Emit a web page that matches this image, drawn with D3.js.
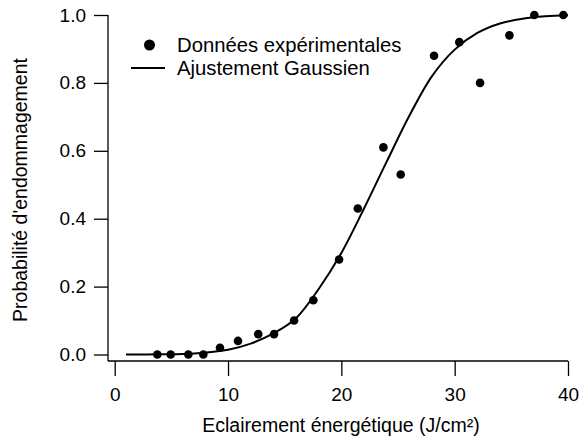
<!DOCTYPE html>
<html>
<head>
<meta charset="utf-8">
<title>Probabilité d'endommagement</title>
<script src="https://cdnjs.cloudflare.com/ajax/libs/d3/7.8.5/d3.min.js"></script>
<style>
body { margin: 0; background: #fff; }
svg { font-family: "Liberation Sans", Arial, sans-serif; }
.axis text { font-size: 19px; fill: #000; }
.axis line { stroke: #000; stroke-width: 1.3px; }
.label { font-size: 19.5px; fill: #000; }
.legend text { font-size: 20.3px; fill: #000; }
</style>
</head>
<body>
<svg id="vis" width="580" height="438"></svg>
<script>
// experimental points
var fluence = [3.76, 4.94, 6.5, 7.82, 9.29, 10.88, 12.67, 14.06, 15.83, 17.53,
               19.8, 21.45, 23.71, 25.24, 28.18, 30.41, 32.24, 34.83, 37.03, 39.59];
var prob    = [0, 0, 0, 0, 0.02, 0.04, 0.06, 0.06, 0.10, 0.16,
               0.28, 0.43, 0.61, 0.53, 0.88, 0.92, 0.80, 0.94, 1.0, 1.0];

// gaussian fit
var fitX = [1, 4, 7, 10, 12, 14, 16, 18, 20, 22, 24, 26, 28, 30, 32, 34, 36, 38, 40];
var fitY = [0, 0.0005, 0.003, 0.014, 0.032, 0.062, 0.107, 0.193, 0.299, 0.43,
            0.568, 0.703, 0.82, 0.898, 0.947, 0.975, 0.989, 0.996, 0.999];

var xTicks = [0, 10, 20, 30, 40];
var yTicks = [0, 0.2, 0.4, 0.6, 0.8, 1.0];

var svg = d3.select("#vis");

var x = d3.scaleLinear().domain([0, 40]).range([114.7, 568]);
var y = d3.scaleLinear().domain([0, 1]).range([354.5, 15]);

var axisX = 108;   // y axis line position
var axisY = 361;   // x axis line position

// y axis
var gy = svg.append("g")
  .attr("class", "axis")
  .attr("transform", `translate(${axisX},0)`)
  .call(d3.axisLeft(y).tickValues(yTicks).tickFormat(d3.format(".1f"))
        .tickSize(14).tickSizeOuter(0).tickPadding(8));
gy.select(".domain").remove();
gy.append("line")
  .attr("x1", 0).attr("x2", 0)
  .attr("y1", y(1)).attr("y2", axisY);

// x axis
var gx = svg.append("g")
  .attr("class", "axis")
  .attr("transform", `translate(0,${axisY})`)
  .call(d3.axisBottom(x).tickValues(xTicks).tickFormat(d3.format("d"))
        .tickSize(15).tickSizeOuter(0).tickPadding(12));
gx.select(".domain").remove();
gx.append("line")
  .attr("x1", axisX).attr("x2", x(40))
  .attr("y1", 0).attr("y2", 0);

// axis titles
svg.append("text")
  .attr("class", "label")
  .attr("x", 341)
  .attr("y", 432)
  .attr("text-anchor", "middle")
  .text("Eclairement énergétique (J/cm²)");

svg.append("text")
  .attr("class", "label")
  .attr("transform", "translate(27,190) rotate(-90)")
  .attr("text-anchor", "middle")
  .text("Probabilité d'endommagement");

// fit curve
var line = d3.line()
  .x((d, i) => x(fitX[i]))
  .y(d => y(d))
  .curve(d3.curveCatmullRom);

svg.append("path")
  .datum(fitY)
  .attr("d", line)
  .attr("fill", "none")
  .attr("stroke", "#000")
  .attr("stroke-width", 2);

// points
svg.selectAll(".dot")
  .data(fluence)
  .enter().append("circle")
    .attr("class", "dot")
    .attr("cx", d => x(d))
    .attr("cy", (d, i) => y(prob[i]))
    .attr("r", 4.3)
    .attr("fill", "#000");

// legend
var legend = svg.append("g").attr("class", "legend");
legend.append("circle")
  .attr("cx", 149.5).attr("cy", 45).attr("r", 5.5).attr("fill", "#000");
legend.append("text")
  .attr("x", 177).attr("y", 52)
  .text("Données expérimentales");
legend.append("line")
  .attr("x1", 131).attr("x2", 165)
  .attr("y1", 68).attr("y2", 68)
  .attr("stroke", "#000").attr("stroke-width", 2);
legend.append("text")
  .attr("x", 177).attr("y", 75)
  .text("Ajustement Gaussien");
</script>
</body>
</html>
